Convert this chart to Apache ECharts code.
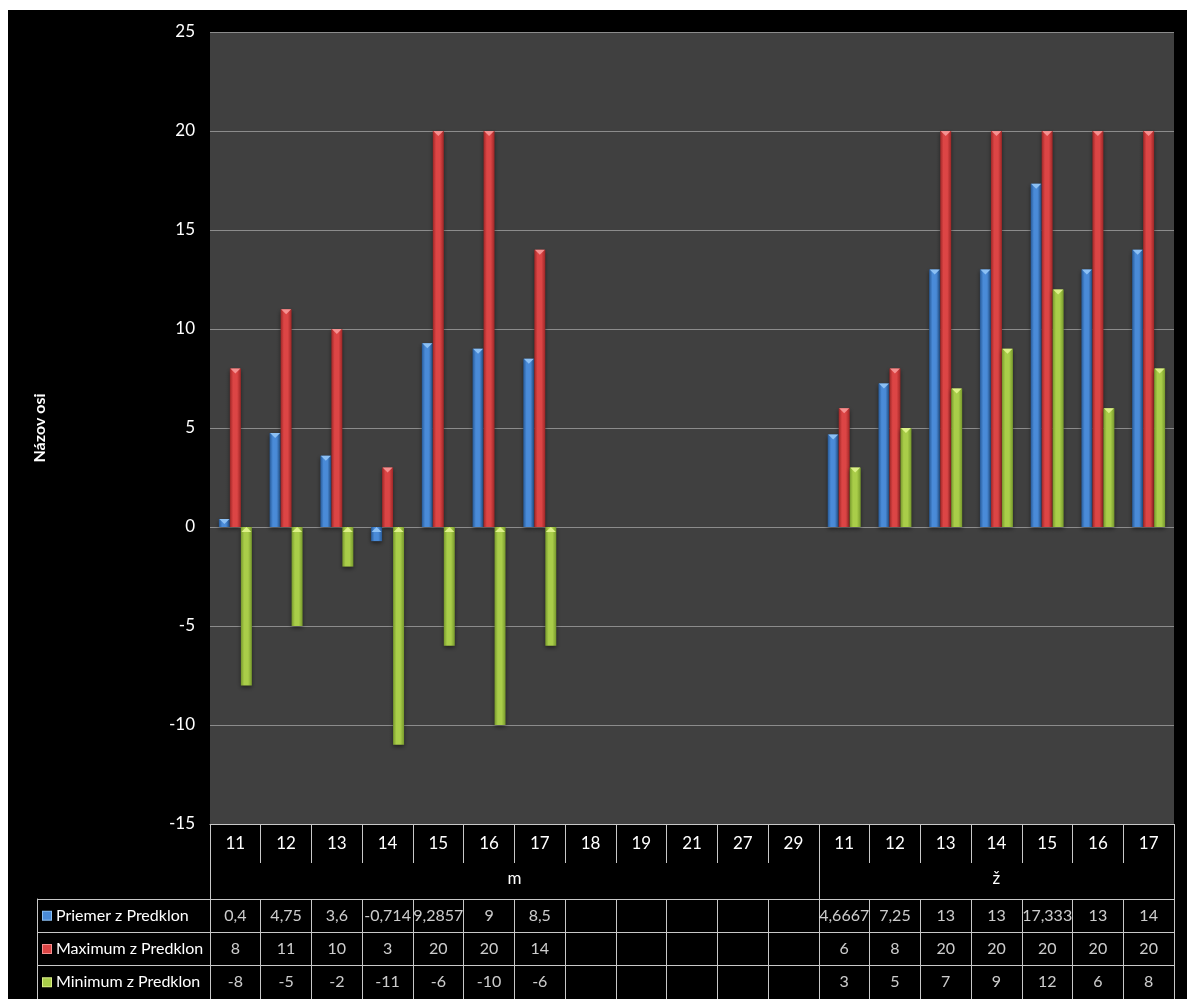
<!DOCTYPE html>
<html>
<head>
<meta charset="utf-8">
<title>Predklon</title>
<script src="https://cdn.jsdelivr.net/npm/echarts@6/dist/echarts.min.js"></script>
<style>
  body { margin: 0; background: #fff; }
  #chart { position: absolute; left: 8px; top: 10px; width: 1179px; height: 989px; background: #000; }
</style>
</head>
<body>
<div id="chart"></div>
<script>
// skupiny (pohlavie) a veky v nich
const groups = ['m', 'ž'];
const agesM = ['11', '12', '13', '14', '15', '16', '17', '18', '19', '21', '27', '29'];
const agesZ = ['11', '12', '13', '14', '15', '16', '17'];

const seriesNames = ['Priemer z Predklon', 'Maximum z Predklon', 'Minimum z Predklon'];
const priemer = [0.4, 4.75, 3.6, -0.714, 9.2857, 9, 8.5, null, null, null, null, null,
                 4.6667, 7.25, 13, 13, 17.333, 13, 14];
const maximum = [8, 11, 10, 3, 20, 20, 14, null, null, null, null, null,
                 6, 8, 20, 20, 20, 20, 20];
const minimum = [-8, -5, -2, -11, -6, -10, -6, null, null, null, null, null,
                 3, 5, 7, 9, 12, 6, 8];

const yMin = -15, yMax = 25, yStep = 5;

const FONT = 'Lato';
const lineColor = '#c8c8c8';
const palette = [
    { edge: '#275a98', mid: '#4a8bd8', tip: '#8cc0f4' },
    { edge: '#9e2626', mid: '#dc4545', tip: '#f59090' },
    { edge: '#77992c', mid: '#a9cd49', tip: '#dcf088' }
];

const groupAges = [agesM, agesZ];
const categories = [];
const groupBounds = [0];
groupAges.forEach((ages, g) => {
    ages.forEach(a => categories.push(groups[g] + '|' + a));
    groupBounds.push(categories.length);
});
const groupCenters = groups.map((g, i) => (groupBounds[i] + groupBounds[i + 1]) / 2);
const allSeries = [priemer, maximum, minimum];
const fmt = v => String(v).replace('.', ',');

const chart = echarts.init(document.getElementById('chart'));

// bunky tabulky pod grafom
const cells = [];
allSeries.forEach((arr, s) => {
    arr.forEach((v, i) => {
        if (v !== null) cells.push([i, s, fmt(v)]);
    });
});

const rich = {};
palette.forEach((p, i) => {
    rich['k' + i] = { width: 8, height: 8, backgroundColor: p.mid, borderColor: p.tip, borderWidth: 1 };
});
rich.t = { color: '#fff', fontFamily: FONT, fontSize: 16, padding: [0, 0, 0, 5] };

const barSeries = allSeries.map((arr, s) => ({
    name: seriesNames[s],
    type: 'bar',
    xAxisIndex: 0,
    yAxisIndex: 0,
    barWidth: 11,
    barGap: '0%',
    data: arr.map(v => v === null ? '-' : v),
    itemStyle: {
        color: new echarts.graphic.LinearGradient(0, 0, 1, 0, [
            { offset: 0, color: palette[s].edge },
            { offset: 0.3, color: palette[s].mid },
            { offset: 0.65, color: palette[s].mid },
            { offset: 1, color: palette[s].edge }
        ]),
        shadowColor: 'rgba(0,0,0,0.5)',
        shadowBlur: 4,
        shadowOffsetY: 2
    },
    z: 2
}));

const tipSeries = allSeries.map((arr, s) => ({
    type: 'pictorialBar',
    xAxisIndex: 0,
    yAxisIndex: 0,
    barWidth: 11,
    barGap: '0%',
    symbol: 'triangle',
    symbolRotate: 180,
    symbolSize: [10, 5],
    data: arr.map(v => v === null ? '-' : { value: v, symbolPosition: v >= 0 ? 'end' : 'start' }),
    itemStyle: { color: palette[s].tip },
    z: 3
}));

const option = {
    backgroundColor: '#000',
    animation: false,
    textStyle: { fontFamily: FONT, color: '#fff' },
    grid: [
        { left: 202, right: 13, top: 22, bottom: 175, show: true, backgroundColor: '#404040', borderWidth: 0 },
        { left: 202, right: 13, top: 889, bottom: 0 }
    ],
    xAxis: [
        {
            gridIndex: 0,
            type: 'category',
            data: categories,
            position: 'bottom',
            axisLine: { show: true, onZero: false, lineStyle: { color: lineColor, width: 1 } },
            axisTick: { show: true, interval: 0, length: 39, lineStyle: { color: lineColor } },
            axisLabel: {
                interval: 0, margin: 11, color: '#fff', fontFamily: FONT, fontSize: 17,
                formatter: v => v.split('|')[1]
            },
            splitLine: { show: false }
        },
        {
            gridIndex: 0,
            type: 'value',
            min: 0,
            max: categories.length,
            position: 'bottom',
            axisLine: { show: false, onZero: false },
            axisTick: { show: true, customValues: groupBounds, length: 175, lineStyle: { color: lineColor } },
            axisLabel: {
                customValues: groupCenters, margin: 46, color: '#fff', fontFamily: FONT, fontSize: 17,
                formatter: v => groups[groupCenters.indexOf(v)]
            },
            splitLine: { show: false }
        },
        {
            gridIndex: 1,
            type: 'category',
            data: categories,
            position: 'top',
            axisLine: { show: true, onZero: false, lineStyle: { color: lineColor } },
            axisTick: { show: false },
            axisLabel: { show: false },
            splitLine: { show: true, interval: 0, lineStyle: { color: lineColor } }
        }
    ],
    yAxis: [
        {
            gridIndex: 0,
            type: 'value',
            min: yMin,
            max: yMax,
            interval: yStep,
            name: 'Názov osi',
            nameLocation: 'middle',
            nameGap: 162,
            nameTextStyle: { color: '#fff', fontFamily: FONT, fontSize: 16, fontWeight: 'bold' },
            axisLine: { show: false },
            axisTick: { show: false },
            axisLabel: { margin: 15, color: '#fff', fontFamily: FONT, fontSize: 17 },
            splitLine: { show: true, lineStyle: { color: '#8c8c8c', width: 1 } }
        },
        {
            gridIndex: 1,
            type: 'category',
            data: seriesNames,
            inverse: true,
            axisLine: { show: true, onZero: false, lineStyle: { color: lineColor } },
            axisTick: { show: true, length: 173, lineStyle: { color: lineColor } },
            axisLabel: {
                align: 'left', margin: 167,
                formatter: (v, i) => '{k' + i + '|}{t|' + v + '}',
                rich: rich
            },
            splitLine: { show: true, lineStyle: { color: lineColor } }
        },
        {
            gridIndex: 1,
            type: 'category',
            data: seriesNames,
            position: 'left',
            offset: 173,
            axisLine: { show: true, onZero: false, lineStyle: { color: lineColor } },
            axisTick: { show: false },
            axisLabel: { show: false }
        }
    ],
    series: [
        ...barSeries,
        ...tipSeries,
        {
            type: 'scatter',
            xAxisIndex: 2,
            yAxisIndex: 1,
            symbolSize: 0,
            data: cells,
            label: {
                show: true,
                position: 'inside',
                color: '#fff',
                fontFamily: FONT,
                fontSize: 16,
                formatter: p => p.value[2]
            }
        }
    ]
};

chart.setOption(option);
</script>
</body>
</html>
